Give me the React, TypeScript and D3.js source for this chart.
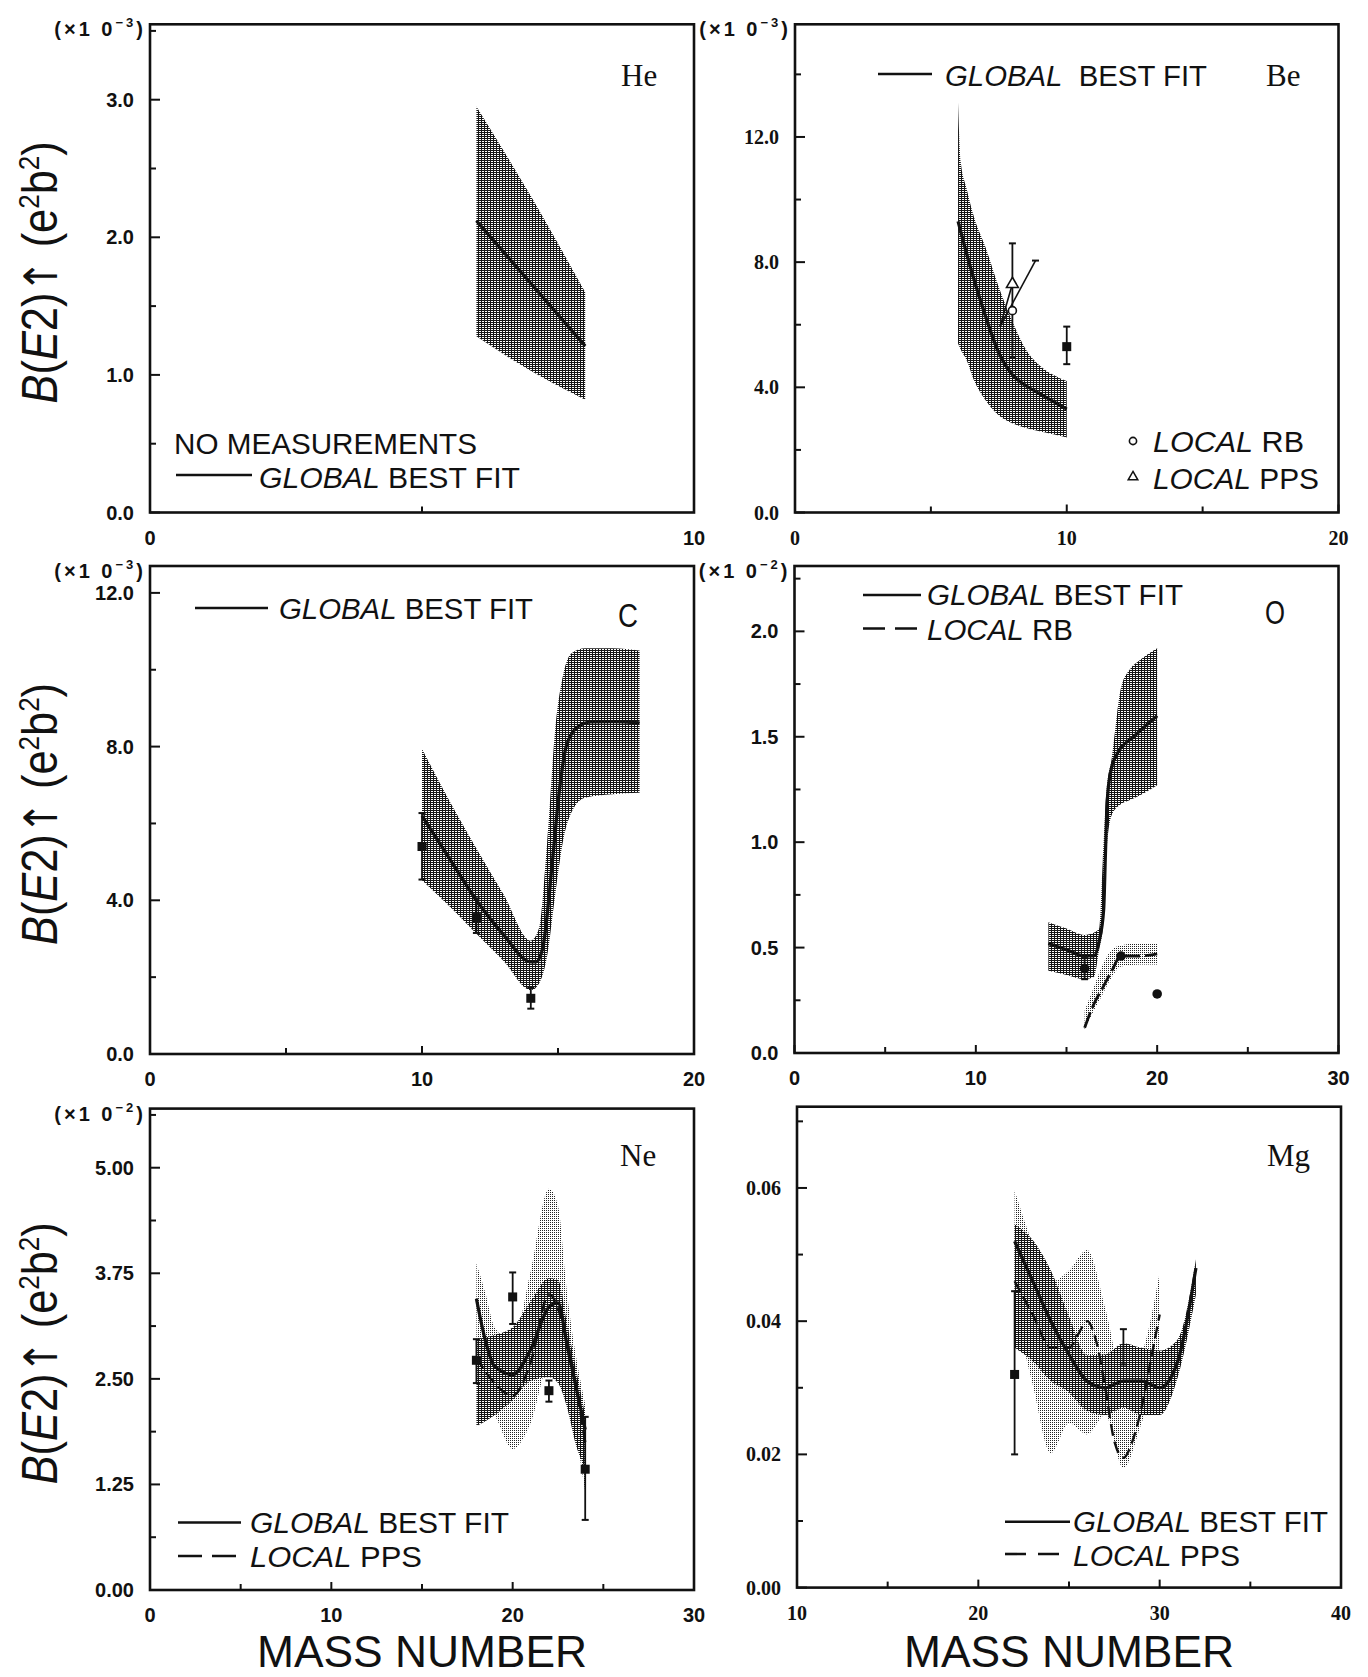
import React, { useEffect, useRef } from 'react';
import * as d3 from 'd3';

// ---------- He ----------
const heBandX = [6, 7, 8];
const heBandHi = [2.95, 2.3, 1.6];
const heBandLo = [1.28, 1.03, 0.82];
const heFitX = [6, 8];
const heFitY = [2.12, 1.21];
const heYTicks = [0, 1, 2, 3];
const heYLabels = ['0.0', '1.0', '2.0', '3.0'];
const heYMinor = [0.5, 1.5, 2.5, 3.5];

// ---------- Be ----------
const beBandX = [6.0, 6.1, 6.3, 6.6, 7.0, 7.5, 8.0, 8.5, 9.0, 9.5, 10.0];
const beBandHi = [13.1, 11.2, 10.4, 9.4, 8.5, 7.2, 6.1, 5.2, 4.7, 4.4, 4.2];
const beBandLo = [5.4, 5.2, 4.9, 4.2, 3.6, 3.1, 2.85, 2.7, 2.6, 2.5, 2.4];
const beFitX = [6, 6.5, 7, 7.5, 8, 8.5, 9, 9.5, 10];
const beFitY = [9.3, 7.7, 6.3, 5.1, 4.4, 4.05, 3.8, 3.55, 3.3];
const beMeasX = [10];
const beMeasY = [5.3];
const beMeasLo = [4.74];
const beMeasHi = [5.94];
const bePpsX = [8];
const bePpsY = [7.3];
const bePpsLo = [4.97];
const bePpsHi = [8.6];
const beRbX = [8];
const beRbY = [6.45];
const beRbTrendX = [7.55, 8.85];
const beRbTrendY = [5.95, 8.05];
const bePpsTrendX = [7.55, 8.0];
const bePpsTrendY = [5.95, 7.3];
const beYTicks = [0, 4, 8, 12];
const beYLabels = ['0.0', '4.0', '8.0', '12.0'];
const beYMinor = [2, 6, 10, 14];

// ---------- C ----------
const cBandX = [10, 11, 12, 13, 14, 14.3, 14.6, 14.9, 15.2, 15.5, 16, 17, 18];
const cBandHi = [7.94, 6.6, 5.35, 4.15, 2.95, 3.27, 5.5, 8.46, 9.9, 10.43, 10.56, 10.56, 10.5];
const cBandLo = [4.52, 3.85, 3.13, 2.42, 1.66, 1.83, 2.55, 4.16, 5.6, 6.3, 6.67, 6.76, 6.8];
const cFitX = [10, 11, 12, 13, 14, 14.2, 14.45, 14.8, 15.05, 15.3, 15.7, 16.2, 17, 18];
const cFitY = [6.2, 5.1, 4.0, 3.1, 2.4, 2.4, 2.8, 5.05, 6.85, 8.0, 8.5, 8.64, 8.65, 8.62];
const cMeasX = [10, 12, 14];
const cMeasY = [5.4, 3.55, 1.45];
const cMeasLo = [4.54, 3.15, 1.18];
const cMeasHi = [6.27, 4.05, 1.72];
const cYTicks = [0, 4, 8, 12];
const cYLabels = ['0.0', '4.0', '8.0', '12.0'];
const cYMinor = [2, 6, 10];

// ---------- O ----------
const oBandX = [14, 15, 16, 16.5, 16.8, 17.0, 17.2, 17.5, 18, 18.5, 19, 20];
const oBandHi = [0.62, 0.59, 0.56, 0.57, 0.59, 0.91, 1.24, 1.4, 1.73, 1.82, 1.86, 1.92];
const oBandLo = [0.39, 0.37, 0.35, 0.36, 0.49, 0.59, 0.95, 1.13, 1.18, 1.2, 1.22, 1.27];
const oFitX = [14, 15, 16, 16.5, 16.8, 17.05, 17.15, 17.25, 17.45, 17.8, 18.7, 20];
const oFitY = [0.52, 0.49, 0.46, 0.46, 0.53, 0.68, 0.95, 1.2, 1.34, 1.42, 1.5, 1.6];
const oLocBandX = [16, 16.5, 17, 17.5, 18, 19, 20];
const oLocBandHi = [0.2, 0.31, 0.42, 0.49, 0.51, 0.52, 0.52];
const oLocBandLo = [0.11, 0.2, 0.28, 0.36, 0.41, 0.42, 0.42];
const oLocX = [16, 16.5, 17, 17.5, 18, 19, 20];
const oLocY = [0.12, 0.23, 0.31, 0.39, 0.46, 0.46, 0.47];
const oMeasX = [16, 18, 20];
const oMeasY = [0.4, 0.46, 0.28];
const oMeasLo = [0.35, 0.46, 0.28];
const oMeasHi = [0.45, 0.46, 0.28];
const oYTicks = [0, 0.5, 1, 1.5, 2];
const oYLabels = ['0.0', '0.5', '1.0', '1.5', '2.0'];
const oYMinor = [0.25, 0.75, 1.25, 1.75, 2.25];

// ---------- Ne ----------
const neBandX = [18, 19, 20, 21, 22, 22.5, 23, 23.5, 24];
const neBandHi = [2.97, 3.02, 3.11, 3.42, 3.69, 3.67, 3.15, 2.61, 2.07];
const neBandLo = [1.94, 2.07, 2.25, 2.48, 2.52, 2.45, 2.16, 1.71, 1.44];
const neLocBandX = [18, 18.5, 19, 20, 21, 22, 22.5, 23, 24];
const neLocBandHi = [3.87, 3.51, 3.11, 2.95, 3.78, 4.75, 4.55, 3.51, 2.2];
const neLocBandLo = [2.48, 2.2, 2.07, 1.67, 1.98, 2.66, 2.6, 2.34, 1.17];
const neFitX = [18, 18.5, 19, 20, 21, 22, 22.5, 23, 23.5, 24];
const neFitY = [3.45, 2.95, 2.65, 2.55, 2.85, 3.35, 3.4, 2.9, 2.4, 1.9];
const neLocX = [18, 19, 20, 21, 22, 23, 24];
const neLocY = [2.75, 2.45, 2.3, 2.7, 3.5, 2.95, 1.75];
const neMeasX = [18, 20, 22, 24];
const neMeasY = [2.72, 3.47, 2.36, 1.43];
const neMeasLo = [2.45, 3.15, 2.23, 0.83];
const neMeasHi = [2.97, 3.76, 2.48, 2.05];
const neYTicks = [0, 1.25, 2.5, 3.75, 5];
const neYLabels = ['0.00', '1.25', '2.50', '3.75', '5.00'];
const neYMinor = [0.625, 1.875, 3.125, 4.375, 5.625];

// ---------- Mg ----------
const mgBandX = [22, 23, 24, 25, 26, 27, 28, 29, 30, 31, 32];
const mgBandHi = [0.0545, 0.0522, 0.0476, 0.0407, 0.0349, 0.035, 0.0367, 0.036, 0.0356, 0.0373, 0.0493];
const mgBandLo = [0.036, 0.034, 0.031, 0.0293, 0.0265, 0.0259, 0.027, 0.0259, 0.0259, 0.0316, 0.044];
const mgLocBandX = [22, 23, 24, 25, 26, 27, 28, 29, 30];
const mgLocBandHi = [0.0596, 0.0516, 0.0459, 0.0476, 0.0507, 0.0419, 0.0316, 0.035, 0.0473];
const mgLocBandLo = [0.0419, 0.0305, 0.0202, 0.0247, 0.023, 0.0259, 0.0179, 0.0247, 0.0327];
const mgFitX = [22, 23, 24, 25, 26, 27, 28, 29, 30, 31, 32];
const mgFitY = [0.052, 0.046, 0.04, 0.035, 0.031, 0.03, 0.031, 0.031, 0.03, 0.034, 0.048];
const mgLocX = [22, 23, 24, 25, 25.5, 26, 26.5, 27, 27.5, 28, 28.5, 29, 29.5, 30];
const mgLocY = [0.046, 0.041, 0.036, 0.036, 0.038, 0.04, 0.037, 0.03, 0.022, 0.0195, 0.022, 0.027, 0.034, 0.041];
const mgMeasX = [22];
const mgMeasY = [0.032];
const mgMeasLo = [0.02];
const mgMeasHi = [0.0445];
const mgBarX = [28];
const mgBarY = [0.036];
const mgBarLo = [0.0335];
const mgBarHi = [0.0388];
const mgYTicks = [0, 0.02, 0.04, 0.06];
const mgYLabels = ['0.00', '0.02', '0.04', '0.06'];
const mgYMinor = [0.01, 0.03, 0.05, 0.07];

const W = 1368;
const H = 1677;
const SANS = '"Liberation Sans", Arial, Helvetica, sans-serif';
const SERIF = '"Liberation Serif", "Times New Roman", serif';
const INK = '#111';

const GLOBAL = [['GLOBAL', true], [' BEST FIT', false]];

const panels: any[] = [
  {
    L: 150, R: 694, T: 24.3, B: 512.5, xDomain: [0, 10], yTop: 3.548,
    yMajor: heYTicks, yLabels: heYLabels, yMinor: heYMinor,
    xMajor: [0, 10], xLabels: ['0', '10'], xMinor: [5],
    exp: '−3', tickFont: SANS, yTitle: true, xTitle: false,
    label: { text: 'He', x: 621, y: 86, font: SERIF, size: 31 },
    bands: [{ x: heBandX, lo: heBandLo, hi: heBandHi, fill: 'dense' }],
    curves: [{ x: heFitX, y: heFitY }],
    meas: [],
    legend: [
      { kind: 'text', x: 174, y: 453.6, parts: [['NO MEASUREMENTS', false]], len: 303 },
      { kind: 'line', x1: 176, x2: 252, y: 475 },
      { kind: 'text', x: 259, y: 487.5, parts: GLOBAL, len: 261 },
    ],
  },
  {
    L: 795, R: 1338.5, T: 24.3, B: 512.5, xDomain: [0, 20], yTop: 15.6,
    yMajor: beYTicks, yLabels: beYLabels, yMinor: beYMinor,
    xMajor: [0, 10, 20], xLabels: ['0', '10', '20'], xMinor: [5, 15],
    exp: '−3', tickFont: SERIF, yTitle: false, xTitle: false,
    label: { text: 'Be', x: 1266, y: 86, font: SERIF, size: 31 },
    bands: [{ x: beBandX, lo: beBandLo, hi: beBandHi, fill: 'dense' }],
    curves: [
      { x: beFitX, y: beFitY },
      { x: beRbTrendX, y: beRbTrendY, width: 1.6, capEnd: true },
      { x: bePpsTrendX, y: bePpsTrendY, width: 1.6 },
    ],
    meas: [
      { x: beMeasX, y: beMeasY, lo: beMeasLo, hi: beMeasHi, shape: 'square' },
      { x: bePpsX, y: bePpsY, lo: bePpsLo, hi: bePpsHi, shape: 'triangle' },
      { x: beRbX, y: beRbY, lo: beRbY, hi: beRbY, shape: 'circle' },
    ],
    legend: [
      { kind: 'line', x1: 878, x2: 932, y: 74 },
      { kind: 'text', x: 945, y: 86, parts: [['GLOBAL', true], ['  BEST FIT', false]], len: 262 },
      { kind: 'circle', cx: 1133, cy: 441 },
      { kind: 'text', x: 1153, y: 452, parts: [['LOCAL', true], [' RB', false]], len: 151 },
      { kind: 'triangle', cx: 1133, cy: 477 },
      { kind: 'text', x: 1153, y: 489, parts: [['LOCAL', true], [' PPS', false]], len: 166 },
    ],
  },
  {
    L: 150, R: 694, T: 566, B: 1054, xDomain: [0, 20], yTop: 12.7,
    yMajor: cYTicks, yLabels: cYLabels, yMinor: cYMinor,
    xMajor: [0, 10, 20], xLabels: ['0', '10', '20'], xMinor: [5, 15],
    exp: '−3', tickFont: SANS, yTitle: true, xTitle: false,
    label: { text: 'C', x: 618, y: 627, font: SANS, size: 34, len: 20 },
    bands: [{ x: cBandX, lo: cBandLo, hi: cBandHi, fill: 'dense' }],
    curves: [{ x: cFitX, y: cFitY }],
    meas: [{ x: cMeasX, y: cMeasY, lo: cMeasLo, hi: cMeasHi, shape: 'square' }],
    legend: [
      { kind: 'line', x1: 195, x2: 268, y: 608 },
      { kind: 'text', x: 279, y: 619, parts: GLOBAL, len: 254 },
    ],
  },
  {
    L: 794.5, R: 1338.5, T: 566, B: 1053, xDomain: [0, 30], yTop: 2.31,
    yMajor: oYTicks, yLabels: oYLabels, yMinor: oYMinor,
    xMajor: [0, 10, 20, 30], xLabels: ['0', '10', '20', '30'], xMinor: [5, 15, 25],
    exp: '−2', tickFont: SANS, yTitle: false, xTitle: false,
    label: { text: 'O', x: 1265, y: 624, font: SANS, size: 34, len: 20 },
    bands: [
      { x: oLocBandX, lo: oLocBandLo, hi: oLocBandHi, fill: 'light' },
      { x: oBandX, lo: oBandLo, hi: oBandHi, fill: 'dense' },
    ],
    curves: [{ x: oFitX, y: oFitY }, { x: oLocX, y: oLocY, dash: '16,5', width: 2.8 }],
    meas: [{ x: oMeasX, y: oMeasY, lo: oMeasLo, hi: oMeasHi, shape: 'dot' }],
    legend: [
      { kind: 'line', x1: 863, x2: 921, y: 595 },
      { kind: 'text', x: 927, y: 605, parts: GLOBAL, len: 256 },
      { kind: 'line', x1: 863, x2: 921, y: 628.5, dash: '22,10' },
      { kind: 'text', x: 927, y: 640, parts: [['LOCAL', true], [' RB', false]], len: 146 },
    ],
  },
  {
    L: 150, R: 694, T: 1108.6, B: 1590, xDomain: [0, 30], yTop: 5.7,
    yMajor: neYTicks, yLabels: neYLabels, yMinor: neYMinor,
    xMajor: [0, 10, 20, 30], xLabels: ['0', '10', '20', '30'], xMinor: [5, 15, 25],
    exp: '−2', tickFont: SANS, yTitle: true, xTitle: true,
    label: { text: 'Ne', x: 620, y: 1166, font: SERIF, size: 31 },
    bands: [
      { x: neLocBandX, lo: neLocBandLo, hi: neLocBandHi, fill: 'light' },
      { x: neBandX, lo: neBandLo, hi: neBandHi, fill: 'dense' },
    ],
    curves: [{ x: neFitX, y: neFitY }, { x: neLocX, y: neLocY, dash: '12,6', width: 2.4 }],
    meas: [{ x: neMeasX, y: neMeasY, lo: neMeasLo, hi: neMeasHi, shape: 'square' }],
    legend: [
      { kind: 'line', x1: 178, x2: 241, y: 1522.5 },
      { kind: 'text', x: 250, y: 1533, parts: GLOBAL, len: 259 },
      { kind: 'line', x1: 178, x2: 241, y: 1556, dash: '24,10' },
      { kind: 'text', x: 250, y: 1567, parts: [['LOCAL', true], [' PPS', false]], len: 172 },
    ],
  },
  {
    L: 797, R: 1341, T: 1106.7, B: 1587.6, xDomain: [10, 40], yTop: 0.0722,
    yMajor: mgYTicks, yLabels: mgYLabels, yMinor: mgYMinor,
    xMajor: [10, 20, 30, 40], xLabels: ['10', '20', '30', '40'], xMinor: [15, 25, 35],
    exp: null, tickFont: SERIF, yTitle: false, xTitle: true,
    label: { text: 'Mg', x: 1267, y: 1166, font: SERIF, size: 31 },
    bands: [
      { x: mgLocBandX, lo: mgLocBandLo, hi: mgLocBandHi, fill: 'light' },
      { x: mgBandX, lo: mgBandLo, hi: mgBandHi, fill: 'dense' },
    ],
    curves: [{ x: mgFitX, y: mgFitY }, { x: mgLocX, y: mgLocY, dash: '12,6', width: 2.4 }],
    meas: [
      { x: mgMeasX, y: mgMeasY, lo: mgMeasLo, hi: mgMeasHi, shape: 'square' },
      { x: mgBarX, y: mgBarY, lo: mgBarLo, hi: mgBarHi, shape: 'none' },
    ],
    legend: [
      { kind: 'line', x1: 1005, x2: 1070, y: 1521.7 },
      { kind: 'text', x: 1073, y: 1532, parts: GLOBAL, len: 255 },
      { kind: 'line', x1: 1005, x2: 1070, y: 1554, dash: '21,12' },
      { kind: 'text', x: 1073, y: 1565.5, parts: [['LOCAL', true], [' PPS', false]], len: 167 },
    ],
  },
];

function drawPanel(svg: any, p: any) {
  const g = svg.append('g');
  const x = d3.scaleLinear().domain(p.xDomain).range([p.L, p.R]);
  const y = d3.scaleLinear().domain([0, p.yTop]).range([p.B, p.T]);

  // shaded uncertainty bands
  p.bands.forEach((b: any) => {
    const pts = b.x.map((v: number, i: number) => ({ x: v, lo: b.lo[i], hi: b.hi[i] }));
    const area = d3
      .area<any>()
      .x((d) => x(d.x))
      .y0((d) => y(d.lo))
      .y1((d) => y(d.hi))
      .curve(d3.curveMonotoneX);
    g.append('path').attr('d', area(pts)).attr('fill', `url(#${b.fill})`);
  });

  // fit curves
  p.curves.forEach((c: any) => {
    const pts = c.x.map((v: number, i: number) => [v, c.y[i]]);
    const line = d3
      .line<any>()
      .x((d) => x(d[0]))
      .y((d) => y(d[1]))
      .curve(d3.curveMonotoneX);
    g.append('path')
      .attr('d', line(pts))
      .attr('fill', 'none')
      .attr('stroke', INK)
      .attr('stroke-width', c.width || 3.2)
      .attr('stroke-dasharray', c.dash || null)
      .attr('stroke-linejoin', 'round');
    if (c.capEnd) {
      const last = pts[pts.length - 1];
      g.append('line')
        .attr('x1', x(last[0]) - 3.5).attr('x2', x(last[0]) + 3.5)
        .attr('y1', y(last[1])).attr('y2', y(last[1]))
        .attr('stroke', INK).attr('stroke-width', 2);
    }
  });

  // measurements with error bars
  p.meas.forEach((m: any) => {
    m.x.forEach((xv: number, i: number) => {
      const cx = x(xv);
      if (m.lo[i] !== m.hi[i]) {
        g.append('line')
          .attr('x1', cx).attr('x2', cx)
          .attr('y1', y(m.lo[i])).attr('y2', y(m.hi[i]))
          .attr('stroke', INK).attr('stroke-width', 1.8);
        [m.lo[i], m.hi[i]].forEach((v: number) => {
          g.append('line')
            .attr('x1', cx - 3.5).attr('x2', cx + 3.5)
            .attr('y1', y(v)).attr('y2', y(v))
            .attr('stroke', INK).attr('stroke-width', 2);
        });
      }
      const cy = y(m.y[i]);
      if (m.shape === 'square') {
        g.append('rect').attr('x', cx - 4.5).attr('y', cy - 4.5).attr('width', 9).attr('height', 9).attr('fill', INK);
      } else if (m.shape === 'dot') {
        g.append('circle').attr('cx', cx).attr('cy', cy).attr('r', 4.8).attr('fill', INK);
      } else if (m.shape === 'circle') {
        g.append('circle').attr('cx', cx).attr('cy', cy).attr('r', 4).attr('fill', '#fff').attr('stroke', INK).attr('stroke-width', 1.6);
      } else if (m.shape === 'triangle') {
        g.append('path')
          .attr('d', d3.symbol().type(d3.symbolTriangle).size(60)())
          .attr('transform', `translate(${cx},${cy})`)
          .attr('fill', '#fff').attr('stroke', INK).attr('stroke-width', 1.6);
      }
    });
  });

  // frame
  g.append('rect')
    .attr('x', p.L).attr('y', p.T)
    .attr('width', p.R - p.L).attr('height', p.B - p.T)
    .attr('fill', 'none').attr('stroke', INK).attr('stroke-width', 2.6);

  // y ticks
  p.yMajor.forEach((v: number, i: number) => {
    g.append('line').attr('x1', p.L).attr('x2', p.L + 10).attr('y1', y(v)).attr('y2', y(v)).attr('stroke', INK).attr('stroke-width', 2);
    g.append('text')
      .attr('x', p.L - 16).attr('y', y(v) + 7)
      .attr('text-anchor', 'end')
      .attr('font-family', p.tickFont).attr('font-weight', 'bold').attr('font-size', 20)
      .attr('fill', INK)
      .text(p.yLabels[i]);
  });
  p.yMinor.forEach((v: number) => {
    g.append('line').attr('x1', p.L).attr('x2', p.L + 6).attr('y1', y(v)).attr('y2', y(v)).attr('stroke', INK).attr('stroke-width', 2);
  });

  // x ticks
  p.xMajor.forEach((v: number, i: number) => {
    g.append('line').attr('x1', x(v)).attr('x2', x(v)).attr('y1', p.B).attr('y2', p.B - 8).attr('stroke', INK).attr('stroke-width', 2);
    g.append('text')
      .attr('x', x(v)).attr('y', p.B + 32)
      .attr('text-anchor', 'middle')
      .attr('font-family', p.tickFont).attr('font-weight', 'bold').attr('font-size', 20)
      .attr('fill', INK)
      .text(p.xLabels[i]);
  });
  p.xMinor.forEach((v: number) => {
    g.append('line').attr('x1', x(v)).attr('x2', x(v)).attr('y1', p.B).attr('y2', p.B - 6).attr('stroke', INK).attr('stroke-width', 2);
  });

  // exponent
  if (p.exp) {
    const t = g.append('text')
      .attr('x', p.L - 4).attr('y', p.T + 12)
      .attr('text-anchor', 'end')
      .attr('font-family', SANS).attr('font-weight', 'bold').attr('font-size', 20)
      .attr('letter-spacing', 3)
      .attr('fill', INK);
    t.append('tspan').text('(×1 0');
    t.append('tspan').attr('dy', -9).attr('font-size', 13).text(p.exp);
    t.append('tspan').attr('dy', 9).text(')');
  }

  // element label
  const lab = g.append('text')
    .attr('x', p.label.x).attr('y', p.label.y)
    .attr('font-family', p.label.font).attr('font-size', p.label.size)
    .attr('fill', INK)
    .text(p.label.text);
  if (p.label.len) lab.attr('textLength', p.label.len).attr('lengthAdjust', 'spacingAndGlyphs');

  // legend
  p.legend.forEach((it: any) => {
    if (it.kind === 'line') {
      g.append('line')
        .attr('x1', it.x1).attr('x2', it.x2).attr('y1', it.y).attr('y2', it.y)
        .attr('stroke', INK).attr('stroke-width', 2.6)
        .attr('stroke-dasharray', it.dash || null);
    } else if (it.kind === 'circle') {
      g.append('circle').attr('cx', it.cx).attr('cy', it.cy).attr('r', 3.6)
        .attr('fill', '#fff').attr('stroke', INK).attr('stroke-width', 1.6);
    } else if (it.kind === 'triangle') {
      g.append('path')
        .attr('d', d3.symbol().type(d3.symbolTriangle).size(40)())
        .attr('transform', `translate(${it.cx},${it.cy})`)
        .attr('fill', '#fff').attr('stroke', INK).attr('stroke-width', 1.5);
    } else {
      const t = g.append('text')
        .attr('x', it.x).attr('y', it.y)
        .attr('font-family', SANS).attr('font-size', 30)
        .attr('fill', INK)
        .attr('textLength', it.len).attr('lengthAdjust', 'spacingAndGlyphs')
        .attr('xml:space', 'preserve');
      it.parts.forEach((pt: any) => {
        t.append('tspan').attr('font-style', pt[1] ? 'italic' : 'normal').text(pt[0]);
      });
    }
  });

  // axis titles
  if (p.yTitle) {
    const cy = (p.T + p.B) / 2 + 4;
    const t = g.append('text')
      .attr('transform', `translate(57,${cy}) rotate(-90)`)
      .attr('text-anchor', 'middle')
      .attr('font-family', SANS).attr('font-size', 50)
      .attr('fill', INK)
      .attr('textLength', 262).attr('lengthAdjust', 'spacingAndGlyphs');
    t.append('tspan').attr('font-style', 'italic').text('B');
    t.append('tspan').text('(');
    t.append('tspan').attr('font-style', 'italic').text('E');
    t.append('tspan').text('2)');
    t.append('tspan').attr('font-family', '"DejaVu Sans", sans-serif').attr('font-size', 46).text('↑');
    t.append('tspan').text(' (e');
    t.append('tspan').attr('dy', -18).attr('font-size', 30).text('2');
    t.append('tspan').attr('dy', 18).text('b');
    t.append('tspan').attr('dy', -18).attr('font-size', 30).text('2');
    t.append('tspan').attr('dy', 18).text(')');
  }
  if (p.xTitle) {
    g.append('text')
      .attr('x', (p.L + p.R) / 2).attr('y', 1667)
      .attr('text-anchor', 'middle')
      .attr('font-family', SANS).attr('font-size', 45)
      .attr('fill', INK)
      .attr('textLength', 330).attr('lengthAdjust', 'spacingAndGlyphs')
      .text('MASS NUMBER');
  }
}

export default function App() {
  const svgRef = useRef<SVGSVGElement>(null);

  useEffect(() => {
    const svg = d3.select(svgRef.current);
    svg.selectAll('*').remove();
    svg.append('rect').attr('width', W).attr('height', H).attr('fill', '#fff');

    const defs = svg.append('defs');
    // dense halftone: full row + one dot on the next row
    const dense = defs.append('pattern').attr('id', 'dense')
      .attr('patternUnits', 'userSpaceOnUse').attr('width', 3).attr('height', 2);
    dense.append('rect').attr('width', 3).attr('height', 1).attr('fill', '#151515');
    dense.append('rect').attr('x', 1).attr('y', 1).attr('width', 1).attr('height', 1).attr('fill', '#151515');
    const light = defs.append('pattern').attr('id', 'light')
      .attr('patternUnits', 'userSpaceOnUse').attr('width', 2).attr('height', 2);
    light.append('rect').attr('width', 1).attr('height', 1).attr('fill', '#222');

    panels.forEach((p) => drawPanel(svg, p));
  }, []);

  return (
    <svg
      ref={svgRef}
      width={W}
      height={H}
      style={{ position: 'absolute', left: 0, top: 0, display: 'block' }}
    />
  );
}
